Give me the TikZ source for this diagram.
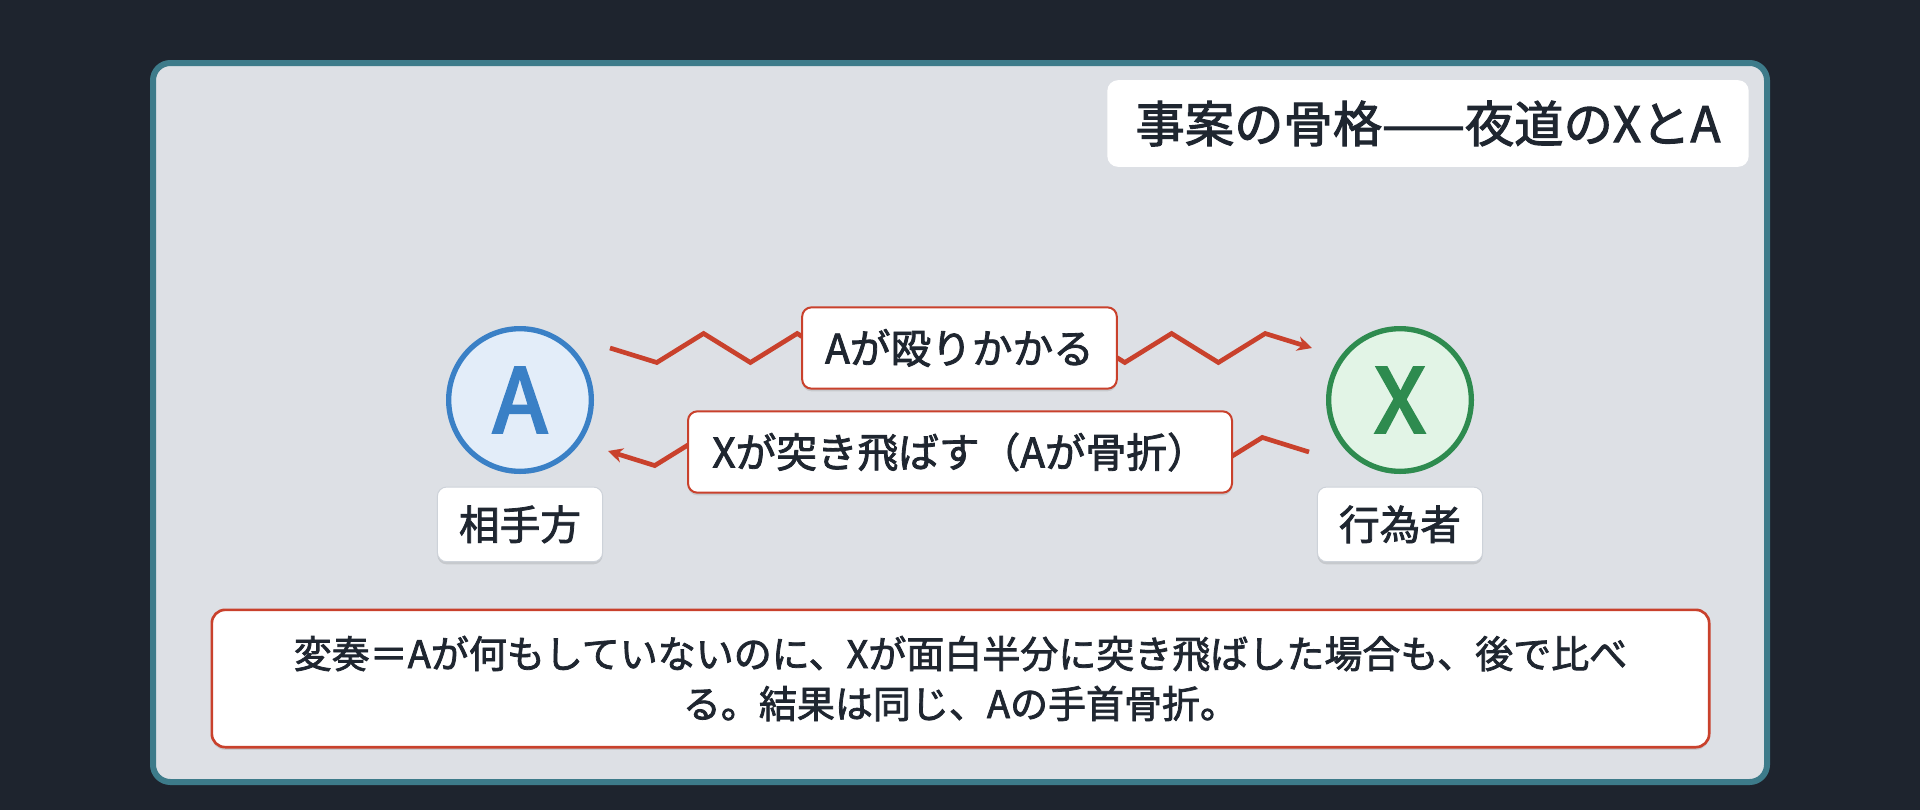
\documentclass[tikz,border=0pt]{standalone}
\usepackage{fontspec}
\setmainfont{Noto Sans CJK JP}[FakeBold=2]
\newfontfamily\letterfont{Noto Sans CJK JP}[FakeBold=3.5]
\usepackage{xcolor}
\usepackage{tikz}
\usetikzlibrary{shapes,arrows.meta,positioning,calc,shadows}

\definecolor{pagebg}{HTML}{1E242E}
\definecolor{panelbg}{HTML}{DDE0E5}
\definecolor{panelline}{HTML}{3D7B8A}
\definecolor{inkdark}{HTML}{1F2630}
\definecolor{hitred}{HTML}{C9412C}
\definecolor{pblue}{HTML}{3A80C6}
\definecolor{pbluefill}{HTML}{E3EDF9}
\definecolor{pgreen}{HTML}{2E8B4F}
\definecolor{pgreenfill}{HTML}{E2F4E6}
\definecolor{tagline}{HTML}{CDD2D9}

\begin{document}
\begin{tikzpicture}[
        x=0.75pt, y=-0.75pt,
        softshadow/.style={drop shadow={opacity=0.10, fill=black, shadow xshift=0pt, shadow yshift=-2pt}},
        panel/.style={draw=panelline, line width=4.5pt, fill=panelbg, rounded corners=13pt},
        titlebox/.style={rectangle, fill=white, text=inkdark, rounded corners=8pt, minimum width=481pt, minimum height=65pt, font=\fontsize{37}{42}\selectfont},
        person/.style={circle, line width=4pt, minimum size=107pt, inner sep=0pt, font=\letterfont\fontsize{66}{70}\selectfont, softshadow},
        tag/.style={rectangle, fill=white, draw=tagline, line width=0.75pt, text=inkdark, rounded corners=7pt, minimum width=124pt, minimum height=56pt, font=\fontsize{30.5}{36}\selectfont, softshadow},
        actbox/.style={rectangle, fill=white, draw=hitred, line width=1.5pt, text=inkdark, rounded corners=7pt, minimum height=61pt, font=\fontsize{30.5}{36}\selectfont, softshadow},
        notebox/.style={rectangle, fill=white, draw=hitred, line width=2pt, text=inkdark, rounded corners=10pt, minimum width=1123pt, minimum height=103pt, align=center, font=\fontsize{28.5}{37.5}\selectfont, softshadow},
        hit/.style={draw=hitred, line width=3.5pt, -{Stealth[length=11pt,width=11pt]}}
    ]
        \useasboundingbox (0,0) rectangle (1920,810);
        \fill[pagebg] (0,0) rectangle (1920,810);

        % Panel
        \draw[panel] (153,63) rectangle (1767,782);

        % Title
        \node[titlebox] (title) at (1428,123.5) {事案の骨格——夜道のXとA};

        % The two persons
        \node[person, draw=pblue, fill=pbluefill, text=pblue] (A) at (520,400) {A};
        \node[person, draw=pgreen, fill=pgreenfill, text=pgreen] (X) at (1400,400) {X};

        % Zigzag ends
        \coordinate (hitFrom) at ($(A.center)+(90,-52)$);
        \coordinate (hitTo) at ($(X.center)+(-88,-52)$);
        \coordinate (pushFrom) at ($(X.center)+(-91,52)$);
        \coordinate (pushTo) at ($(A.center)+(88,51)$);

        % Zigzag connectors
        \draw[hit] (hitFrom) \foreach \k in {1,...,14} { -- ($(hitFrom)!\k/15!(hitTo)+(0,{14.5-29*mod(\k+1,2)})$) } -- (hitTo);
        \draw[hit] (pushFrom) \foreach \k in {1,...,14} { -- ($(pushFrom)!\k/15!(pushTo)+(0,{29*mod(\k+1,2)-14.5})$) } -- (pushTo);

        % Labels on the connectors
        \node[actbox, minimum width=236pt] (hitLabel) at (959.5,348) {Aが殴りかかる};
        \node[actbox, minimum width=408pt] (pushLabel) at (960,452) {Xが突き飛ばす（Aが骨折）};

        % Roles
        \node[tag, below=9.4pt of A] (roleA) {相手方};
        \node[tag, below=9.4pt of X] (roleX) {行為者};

        % Variation note
        \node[notebox] (note) at (960.5,678.5) {変奏＝Aが何もしていないのに、Xが面白半分に突き飛ばした場合も、後で比べ\\る。結果は同じ、Aの手首骨折。};
    \end{tikzpicture}
\end{document}
